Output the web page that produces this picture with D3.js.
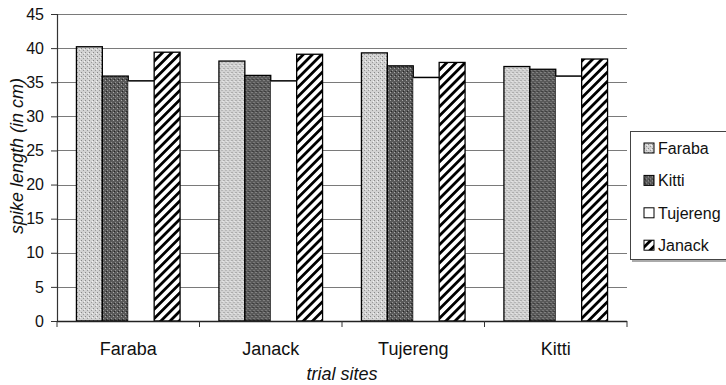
<!DOCTYPE html>
<html>
<head>
<meta charset="utf-8">
<script src="https://cdn.jsdelivr.net/npm/d3@7"></script>
<style>
  html, body { margin: 0; padding: 0; background: #fff; }
  svg { display: block; font-family: "Liberation Sans", Arial, sans-serif; }
</style>
</head>
<body>
<svg id="chart" width="726" height="385"></svg>
<script>
// Trial sites along the x axis
const sites = ["Faraba", "Janack", "Tujereng", "Kitti"];
// Varieties (one bar each per site)
const series = ["Faraba", "Kitti", "Tujereng", "Janack"];
// Spike length (cm) per variety, in site order
const farabaValues   = [40.2, 38.1, 39.3, 37.3];
const kittiValues    = [35.9, 36.0, 37.4, 36.9];
const tujerengValues = [35.2, 35.2, 35.7, 35.9];
const janackValues   = [39.4, 39.1, 37.9, 38.4];
const yTicks = [0, 5, 10, 15, 20, 25, 30, 35, 40, 45];

const valuesBySeries = {
  "Faraba": farabaValues,
  "Kitti": kittiValues,
  "Tujereng": tujerengValues,
  "Janack": janackValues
};

const svg = d3.select("#chart");
const plotLeft = 57, plotRight = 627, plotTop = 14, plotBottom = 321;

// Fill patterns
const defs = svg.append("defs");

// light stipple
const pLight = defs.append("pattern").attr("id", "pat-light")
  .attr("patternUnits", "userSpaceOnUse").attr("width", 4).attr("height", 4);
pLight.append("rect").attr("width", 4).attr("height", 4).attr("fill", "#d2d2d2");
pLight.append("rect").attr("x", 0).attr("y", 0).attr("width", 1).attr("height", 1).attr("fill", "#888");
pLight.append("rect").attr("x", 2).attr("y", 2).attr("width", 1).attr("height", 1).attr("fill", "#999");
pLight.append("rect").attr("x", 3).attr("y", 1).attr("width", 1).attr("height", 1).attr("fill", "#f2f2f2");

// dark stipple
const pDark = defs.append("pattern").attr("id", "pat-dark")
  .attr("patternUnits", "userSpaceOnUse").attr("width", 4).attr("height", 4);
pDark.append("rect").attr("width", 4).attr("height", 4).attr("fill", "#595959");
pDark.append("rect").attr("x", 0).attr("y", 0).attr("width", 1).attr("height", 1).attr("fill", "#a8a8a8");
pDark.append("rect").attr("x", 2).attr("y", 2).attr("width", 1).attr("height", 1).attr("fill", "#969696");
pDark.append("rect").attr("x", 1).attr("y", 3).attr("width", 1).attr("height", 1).attr("fill", "#262626");

// diagonal stripes
const pStripe = defs.append("pattern").attr("id", "pat-stripe")
  .attr("patternUnits", "userSpaceOnUse").attr("width", 6.5).attr("height", 6.5)
  .attr("patternTransform", "rotate(45)");
pStripe.append("rect").attr("width", 6.5).attr("height", 6.5).attr("fill", "#fff");
pStripe.append("rect").attr("x", 0).attr("y", 0).attr("width", 2.8).attr("height", 6.5).attr("fill", "#000");

const fills = {
  "Faraba": "url(#pat-light)",
  "Kitti": "url(#pat-dark)",
  "Tujereng": "#fff",
  "Janack": "url(#pat-stripe)"
};

// Scales
const y = d3.scaleLinear().domain([0, 45]).range([plotBottom, plotTop]);
const x0 = d3.scaleBand().domain(sites).range([plotLeft, plotRight]).paddingInner(0).paddingOuter(0);
const x1 = d3.scaleBand().domain(series).range([0, x0.bandwidth()])
  .paddingInner(0).paddingOuter(0.75);

// Gridlines
svg.append("g").selectAll("line").data(yTicks.filter(d => d > 0)).join("line")
  .attr("x1", plotLeft).attr("x2", plotRight)
  .attr("y1", d => Math.round(y(d)) + 0.5).attr("y2", d => Math.round(y(d)) + 0.5)
  .attr("stroke", "#7a7a7a").attr("stroke-width", 1);

// Bars
const groups = svg.append("g").selectAll("g").data(sites).join("g")
  .attr("transform", d => `translate(${x0(d)},0)`);

groups.selectAll("rect")
  .data((site, i) => series.map(s => ({ s, v: valuesBySeries[s][i] })))
  .join("rect")
  .attr("x", d => x1(d.s))
  .attr("y", d => y(d.v))
  .attr("width", x1.bandwidth())
  .attr("height", d => y(0) - y(d.v))
  .attr("fill", d => fills[d.s])
  .attr("stroke", d => d.s === "Tujereng" ? "none" : "#000")
  .attr("stroke-width", 1.3);

// White bars only show their top edge
groups.selectAll("line.top")
  .data((site, i) => [{ s: "Tujereng", v: valuesBySeries["Tujereng"][i] }])
  .join("line").attr("class", "top")
  .attr("x1", d => x1(d.s)).attr("x2", d => x1(d.s) + x1.bandwidth())
  .attr("y1", d => y(d.v)).attr("y2", d => y(d.v))
  .attr("stroke", "#000").attr("stroke-width", 1.5);

// Y axis
const yAxis = svg.append("g")
  .attr("transform", `translate(${plotLeft},0)`)
  .call(d3.axisLeft(y).tickValues(yTicks).tickSize(6).tickPadding(7).tickFormat(d3.format("d")));
yAxis.select(".domain").attr("stroke", "#333").attr("stroke-width", 1.2);
yAxis.selectAll(".tick line").attr("stroke", "#333");
yAxis.selectAll("text").attr("font-size", 16).attr("fill", "#111")
  .attr("font-family", "'Liberation Sans', Arial, sans-serif");

// X axis: tick marks on category boundaries, labels centered
const xAxisG = svg.append("g").attr("transform", `translate(0,${plotBottom})`);
xAxisG.append("line").attr("x1", plotLeft).attr("x2", plotRight).attr("y1", 0.5).attr("y2", 0.5)
  .attr("stroke", "#222").attr("stroke-width", 1.3);
xAxisG.selectAll("line.tk").data(sites.concat(["_end"])).join("line").attr("class", "tk")
  .attr("x1", (d, i) => i < sites.length ? x0(d) : plotRight)
  .attr("x2", (d, i) => i < sites.length ? x0(d) : plotRight)
  .attr("y1", 0).attr("y2", 6).attr("stroke", "#333");
xAxisG.selectAll("text").data(sites).join("text")
  .attr("x", d => x0(d) + x0.bandwidth() / 2)
  .attr("y", 34)
  .attr("text-anchor", "middle")
  .attr("font-size", 18).attr("fill", "#111")
  .text(d => d);

// Axis titles
svg.append("text")
  .attr("x", (plotLeft + plotRight) / 2).attr("y", 380)
  .attr("text-anchor", "middle").attr("font-size", 18).attr("font-style", "italic")
  .attr("fill", "#111").text("trial sites");

svg.append("text")
  .attr("transform", "translate(23,156) rotate(-90)")
  .attr("text-anchor", "middle").attr("font-size", 18).attr("font-style", "italic")
  .attr("fill", "#111").text("spike length (in cm)");

// Legend
const legend = svg.append("g");
legend.append("rect").attr("x", 630.5).attr("y", 131.5).attr("width", 110).attr("height", 128)
  .attr("fill", "#fff").attr("stroke", "#444").attr("stroke-width", 1);
legend.append("line").attr("x1", 632).attr("x2", 726).attr("y1", 261).attr("y2", 261)
  .attr("stroke", "#aaa").attr("stroke-width", 2);
const items = legend.selectAll("g.item").data(series).join("g").attr("class", "item")
  .attr("transform", (d, i) => `translate(644,${148 + i * 32.4})`);
items.append("rect").attr("x", 0).attr("y", -5).attr("width", 10).attr("height", 10)
  .attr("fill", d => fills[d]).attr("stroke", "#000").attr("stroke-width", 1);
items.append("text").attr("x", 14).attr("y", 6)
  .attr("font-size", 16).attr("fill", "#111").text(d => d);
</script>
</body>
</html>
